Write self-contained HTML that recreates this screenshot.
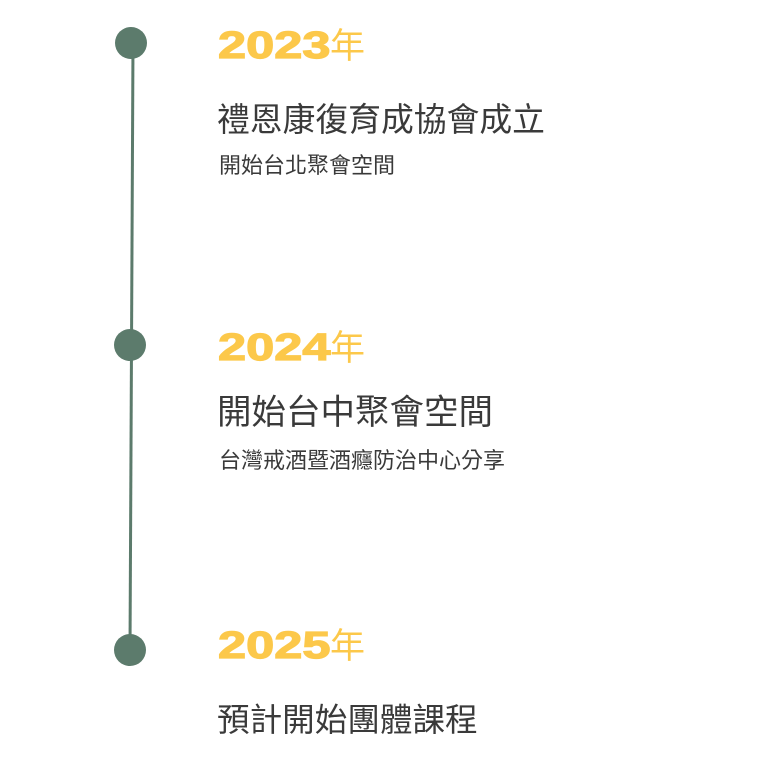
<!DOCTYPE html>
<html><head><meta charset="utf-8"><style>
body{margin:0;width:768px;height:768px;background:#fff;position:relative;overflow:hidden;font-family:"Liberation Sans","Noto Sans CJK TC",sans-serif}
.dot{position:absolute;width:32px;height:32px;border-radius:50%;background:#5c7b6c}
.y{position:absolute;left:218px;color:#fcc84a;font-weight:bold;font-size:38px;line-height:38px;white-space:nowrap}
.y b{display:inline-block;transform:scaleX(1.33);transform-origin:left;width:112px;font-weight:900;-webkit-text-stroke:1.2px #fcc84a}
.y span{font-weight:normal;font-size:35px}
.t{position:absolute;left:217px;color:#3a3a3a;font-size:30px;line-height:34px;white-space:nowrap}
.s{position:absolute;left:219px;color:#3a3a3a;font-size:22px;line-height:26px;white-space:nowrap}
</style></head><body>
<svg width="768" height="768" style="position:absolute;left:0;top:0"><line x1="133" y1="43" x2="130" y2="650" stroke="#5c7b6c" stroke-width="3"/></svg>
<div class="dot" style="left:115px;top:27px"></div>
<div class="dot" style="left:114px;top:329px"></div>
<div class="dot" style="left:114px;top:634px"></div>
<div class="y" style="top:27px"><b>2023</b><span>年</span></div>
<div class="t" style="top:103px;font-size:32.8px">禮恩康復育成協會成立</div>
<div class="s" style="top:153px">開始台北聚會空間</div>
<div class="y" style="top:329px"><b>2024</b><span>年</span></div>
<div class="t" style="top:396px;font-size:34.5px">開始台中聚會空間</div>
<div class="s" style="top:448px">台灣戒酒暨酒癮防治中心分享</div>
<div class="y" style="top:627px"><b>2025</b><span>年</span></div>
<div class="t" style="top:703px;font-size:32.6px">預計開始團體課程</div>
</body></html>
